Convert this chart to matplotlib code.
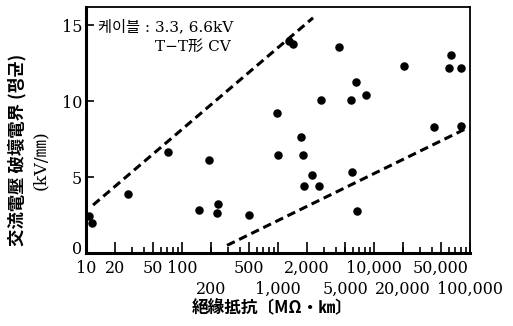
import matplotlib
matplotlib.use('Agg')
import matplotlib.pyplot as plt
from matplotlib.ticker import FixedLocator, LogLocator, NullFormatter
from matplotlib.transforms import ScaledTranslation

# --- Data ---
resistance = [10.7, 11.5, 27.4, 71.5, 150, 191, 237, 232, 499, 977, 1000,
              1303, 1433, 1738, 1821, 1866, 2261, 2673, 2805, 4316, 5754,
              5900, 6494, 6650, 8254, 20540, 42170, 60400, 63400, 80600, 80600]
field = [2.43, 1.97, 3.88, 6.64, 2.83, 6.12, 3.22, 2.63, 2.50, 9.21, 6.45,
         14.0, 13.8, 7.63, 6.45, 4.41, 5.13, 4.41, 10.07, 13.55, 10.07,
         5.33, 11.25, 2.76, 10.39, 12.3, 8.29, 12.17, 13.03, 12.17, 8.36]

upper_x = [11.8, 2317]
upper_y = [3.16, 15.5]
lower_x = [294, 88700]
lower_y = [0.5, 8.16]

# two rows of x tick labels
xticks_top = [10, 20, 50, 100, 500, 2000, 10000, 50000]
xlabels_top = ['10', '20', '50', '100', '500', '2,000', '10,000', '50,000']
xticks_bot = [200, 1000, 5000, 20000, 100000]
xlabels_bot = ['200', '1,000', '5,000', '20,000', '100,000']
yticks = [0, 5, 10, 15]

serif = ['DejaVu Serif', 'Noto Sans CJK KR']
cjk = ['Noto Sans CJK KR', 'DejaVu Sans']

fig = plt.figure(figsize=(5.13, 3.26), dpi=100)
ax = fig.add_axes([0.168, 0.224, 0.748, 0.754])

ax.scatter(resistance, field, s=26, color='black', zorder=3)
ax.plot(upper_x, upper_y, color='black', lw=2.2, linestyle=(0, (2.8, 1.6)))
ax.plot(lower_x, lower_y, color='black', lw=2.2, linestyle=(0, (2.8, 1.6)))

ax.set_xscale('log')
ax.set_xlim(10, 100000)
ax.set_ylim(0, 16.2)

ax.xaxis.set_major_locator(FixedLocator(xticks_top))
ax.set_xticklabels(xlabels_top, family=serif, fontsize=11.5)
ax.xaxis.set_minor_locator(LogLocator(base=10, subs=range(2, 10), numticks=20))
ax.xaxis.set_minor_formatter(NullFormatter())
ax.set_yticks(yticks)
ax.set_yticklabels([str(v) for v in yticks], family=serif, fontsize=11.5)

ax.tick_params(axis='x', which='major', direction='in', length=8, width=1.2, pad=5)
ax.tick_params(axis='x', which='minor', direction='in', length=4, width=1.2)
ax.tick_params(axis='y', direction='in', length=6, width=1.2, pad=3)

# lift the "0" a little, as in the reference
zero = ax.get_yticklabels()[0]
zero.set_transform(zero.get_transform() + ScaledTranslation(0, 4 / 72, fig.dpi_scale_trans))

# second row of labels
sec = ax.secondary_xaxis('bottom')
sec.set_xticks(xticks_bot)
sec.set_xticklabels(xlabels_bot, family=serif, fontsize=11.5)
sec.xaxis.set_minor_locator(FixedLocator([]))
sec.tick_params(axis='x', which='major', direction='in', length=8, width=1.2, pad=20)
sec.spines['bottom'].set_visible(False)

for side in ['left', 'bottom']:
    ax.spines[side].set_linewidth(2.2)
for side in ['top', 'right']:
    ax.spines[side].set_linewidth(1.3)

ax.text(0.03, 0.92, '케이블 : 3.3, 6.6kV', transform=ax.transAxes,
        family=serif, fontsize=11, va='center', ha='left')
ax.text(0.18, 0.84, 'T\u2212T形 CV', transform=ax.transAxes,
        family=serif, fontsize=11, va='center', ha='left')

fig.text(0.034, 0.54, '交流電壓 破壞電界 (평균)', rotation=90, family=cjk,
         fontsize=12.5, ha='center', va='center', fontweight='bold')
fig.text(0.078, 0.51, '(kV/㎜)', rotation=90, family=serif,
         fontsize=12.5, ha='center', va='center')
fig.text(0.53, 0.055, '絕緣抵抗〔MΩ・㎞〕', family=cjk, fontsize=12,
         ha='center', va='center', fontweight='bold')

plt.savefig('out.png', dpi=100)
plt.close()
